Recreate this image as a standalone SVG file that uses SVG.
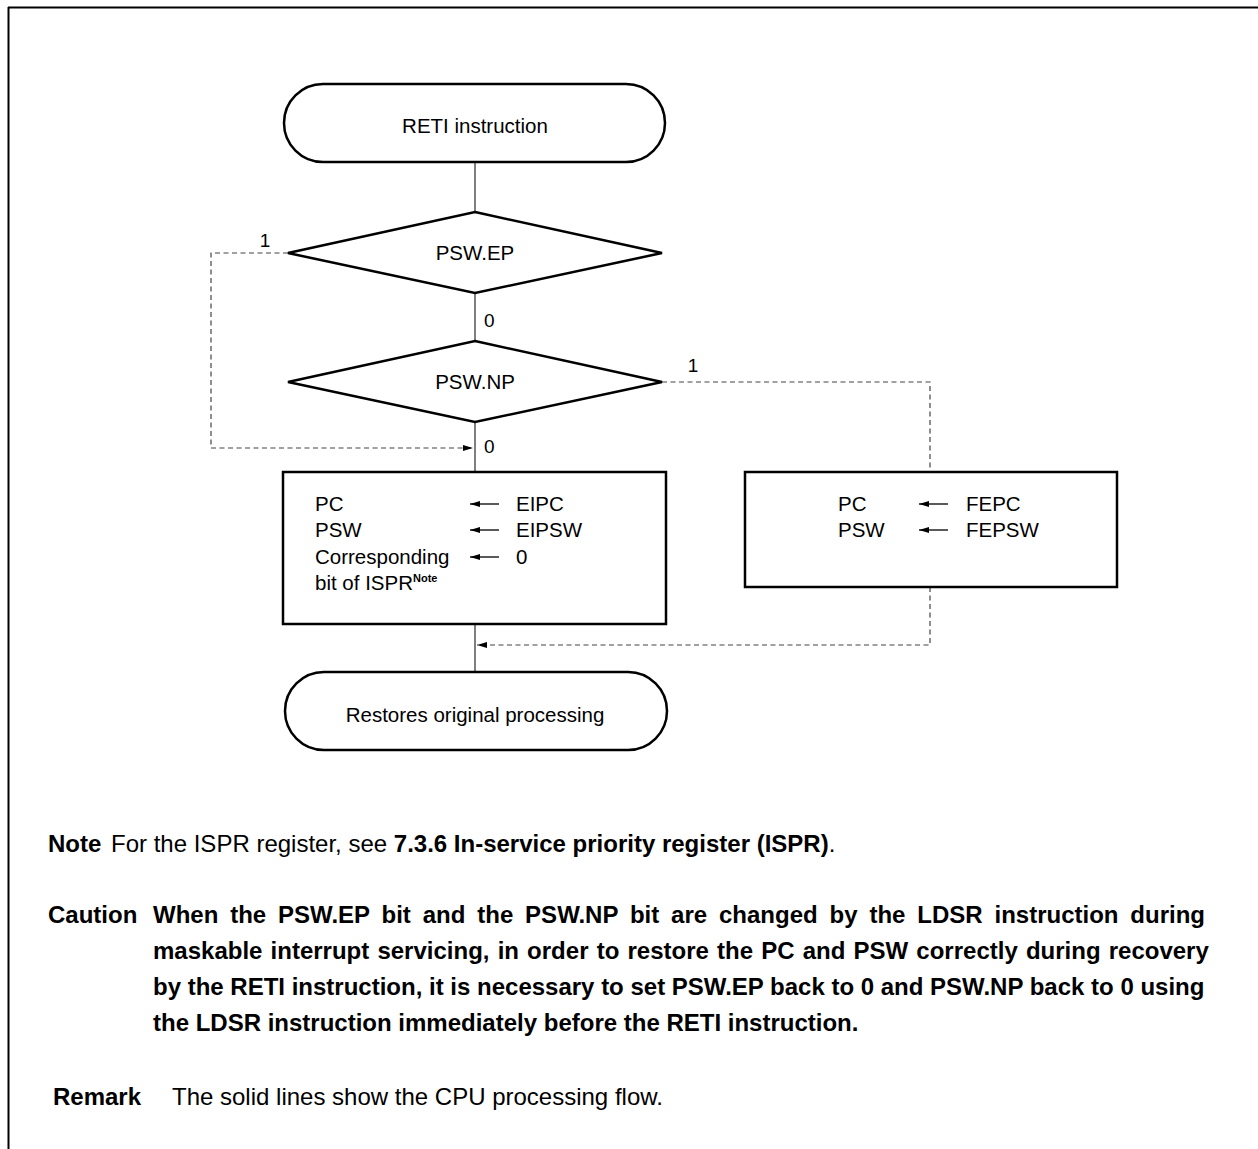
<svg xmlns="http://www.w3.org/2000/svg" width="1258" height="1149" viewBox="0 0 1258 1149">
<style>
text{font-family:"Liberation Sans",Arial,sans-serif;fill:#000}
.t{font-size:20.5px}
.lbl{font-size:19px}
.n{font-size:24px}
.b{font-weight:bold}
.shape{fill:#fff;stroke:#000;stroke-width:2.5}
.solid{fill:none;stroke:#555;stroke-width:1.5}
.dash{fill:none;stroke:#444;stroke-width:1.2;stroke-dasharray:5 3.5}
.arr{stroke:#000;stroke-width:1.3}
</style>
<defs>
<marker id="ah" viewBox="0 0 10 6" refX="10" refY="3" markerWidth="10" markerHeight="6" markerUnits="userSpaceOnUse" orient="auto">
<path d="M0,0 L10,3 L0,6 Z" fill="#000"/>
</marker>
</defs>
<g id="frame">
<line x1="8" y1="7.5" x2="1258" y2="7.5" stroke="#000" stroke-width="2"/>
<line x1="8.5" y1="7" x2="8.5" y2="1149" stroke="#000" stroke-width="2"/>
</g>
<g id="connectors">
<line class="solid" x1="475" y1="162" x2="475" y2="212"/>
<line class="solid" x1="475" y1="293" x2="475" y2="341"/>
<line class="solid" x1="475" y1="422" x2="475" y2="472"/>
<line class="solid" x1="475" y1="624" x2="475" y2="672"/>
<path class="dash" d="M288,253 H211 V448 H473" marker-end="url(#ah)"/>
<path class="dash" d="M662,382 H930 V472"/>
<path class="dash" d="M930,587 V645 H477" marker-end="url(#ah)"/>
<text class="lbl" x="265" y="247" text-anchor="middle">1</text>
<text class="lbl" x="484" y="327">0</text>
<text class="lbl" x="484" y="453">0</text>
<text class="lbl" x="693" y="372" text-anchor="middle">1</text>
</g>
<g id="start">
<rect class="shape" x="284" y="84" width="381" height="78" rx="39"/>
<text class="t" x="475" y="133" text-anchor="middle">RETI instruction</text>
</g>
<g id="ep">
<polygon class="shape" points="475,212 662,253 475,293 288,253"/>
<text class="t" x="475" y="260" text-anchor="middle">PSW.EP</text>
</g>
<g id="np">
<polygon class="shape" points="475,341 662,382 475,422 288,382"/>
<text class="t" x="475" y="389" text-anchor="middle">PSW.NP</text>
</g>
<g id="box-ei">
<rect class="shape" x="283" y="472" width="383" height="152"/>
<text class="t" x="315" y="511">PC</text>
<text class="t" x="315" y="537">PSW</text>
<text class="t" x="315" y="564">Corresponding</text>
<text class="t" x="315" y="590">bit of ISPR<tspan class="b" font-size="11px" dy="-8">Note</tspan></text>
<line class="arr" x1="499" y1="504" x2="470" y2="504" marker-end="url(#ah)"/>
<line class="arr" x1="499" y1="530" x2="470" y2="530" marker-end="url(#ah)"/>
<line class="arr" x1="499" y1="557" x2="470" y2="557" marker-end="url(#ah)"/>
<text class="t" x="516" y="511">EIPC</text>
<text class="t" x="516" y="537">EIPSW</text>
<text class="t" x="516" y="564">0</text>
</g>
<g id="box-fe">
<rect class="shape" x="745" y="472" width="372" height="115"/>
<text class="t" x="838" y="511">PC</text>
<text class="t" x="838" y="537">PSW</text>
<line class="arr" x1="948" y1="504" x2="919" y2="504" marker-end="url(#ah)"/>
<line class="arr" x1="948" y1="530" x2="919" y2="530" marker-end="url(#ah)"/>
<text class="t" x="966" y="511">FEPC</text>
<text class="t" x="966" y="537">FEPSW</text>
</g>
<g id="end">
<rect class="shape" x="285" y="672" width="382" height="78" rx="39"/>
<text class="t" x="475" y="722" text-anchor="middle">Restores original processing</text>
</g>
<g id="notes">
<text class="n" y="852"><tspan class="b" x="48">Note</tspan><tspan x="111">For the ISPR register, see </tspan><tspan class="b">7.3.6 In-service priority register (ISPR)</tspan>.</text>
<text class="n b" x="48" y="923">Caution</text>
<text class="n b" x="153" y="923" word-spacing="5.2">When the PSW.EP bit and the PSW.NP bit are changed by the LDSR instruction during</text>
<text class="n b" x="153" y="959" word-spacing="1.5">maskable interrupt servicing, in order to restore the PC and PSW correctly during recovery</text>
<text class="n b" x="153" y="995">by the RETI instruction, it is necessary to set PSW.EP back to 0 and PSW.NP back to 0 using</text>
<text class="n b" x="153" y="1031">the LDSR instruction immediately before the RETI instruction.</text>
<text class="n" y="1105"><tspan class="b" x="53">Remark</tspan><tspan x="172">The solid lines show the CPU processing flow.</tspan></text>
</g>
</svg>
